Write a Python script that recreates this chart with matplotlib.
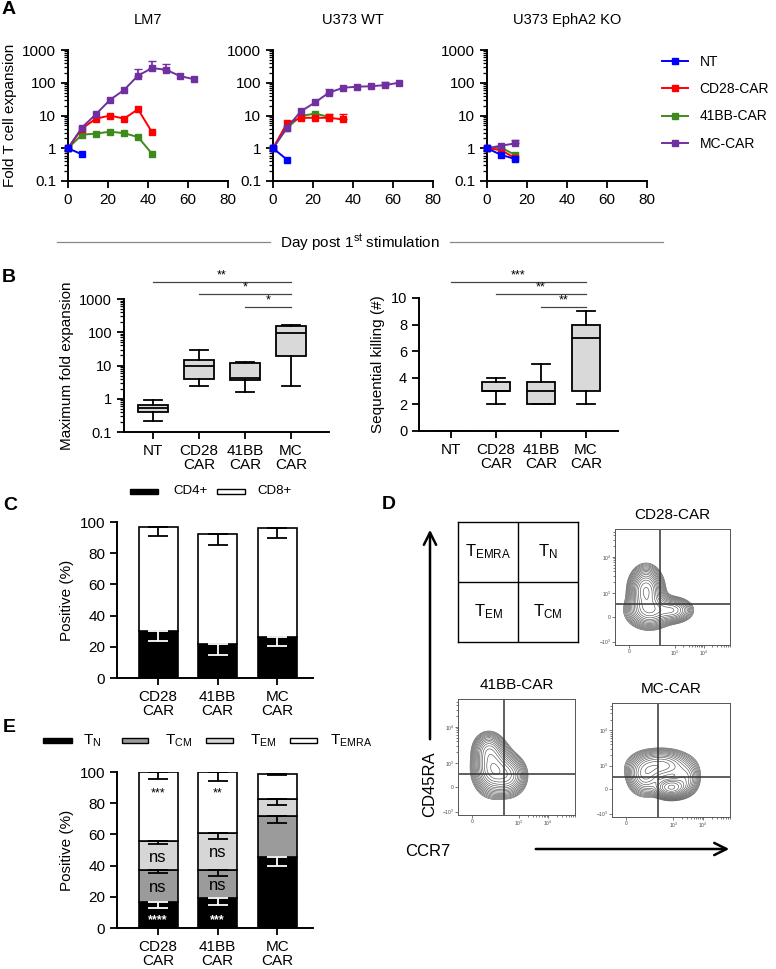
import numpy as np
import matplotlib
matplotlib.use('Agg')
import matplotlib.pyplot as plt
from matplotlib.patches import Rectangle, FancyArrowPatch
from matplotlib.lines import Line2D
import matplotlib.ticker as mticker
import matplotlib.transforms as mtransforms

plt.rcParams['font.family'] = ['Liberation Sans', 'DejaVu Sans']
plt.rcParams['mathtext.default'] = 'regular'
plt.rcParams['axes.linewidth'] = 1.4
plt.rcParams['xtick.major.width'] = 1.3
plt.rcParams['ytick.major.width'] = 1.3

W, H = 776, 969
fig = plt.figure(figsize=(W / 100, H / 100), dpi=100)

# ---------------- data ----------------
days = [0, 7, 14, 21, 28, 35, 42, 49, 56, 63]
group_names = ['NT', 'CD28-CAR', '41BB-CAR', 'MC-CAR']
group_colors = ['#0000ff', '#ff0000', '#3f8a1f', '#7030a0']
panel_titles = ['LM7', 'U373 WT', 'U373 EphA2 KO']

lm7_nt = [1, 0.65]
lm7_cd28 = [1, 4.0, 8.0, 10.0, 8.0, 15.5, 3.1]
lm7_41bb = [1, 2.6, 2.8, 3.2, 2.9, 2.2, 0.68]
lm7_mc = [1, 4.3, 11, 30, 60, 165, 280, 250, 160, 128]
lm7_mc_top = [np.nan, np.nan, np.nan, np.nan, np.nan, 270, 470, 380, np.nan, np.nan]

wt_nt = [1, 0.45]
wt_cd28 = [1, 5.8, 8.5, 8.5, 8.5, 7.6]
wt_cd28_top = [np.nan, np.nan, np.nan, np.nan, 11.5, 11.5]
wt_41bb = [1, 4.2, 9.6, 11.5, 9.0]
wt_mc = [1, 4.3, 13.5, 25, 50, 70, 76, 78, 85, 100]
wt_mc_top = [np.nan, np.nan, np.nan, np.nan, 65, np.nan, np.nan, np.nan, 108, np.nan]

ko_nt = [1, 0.63, 0.47]
ko_cd28 = [1, 0.88, 0.50]
ko_41bb = [1, 1.05, 0.63]
ko_mc = [1, 1.2, 1.4]
ko_mc_top = [np.nan, np.nan, 1.75]

box_labels = ['NT', 'CD28\nCAR', '41BB\nCAR', 'MC\nCAR']
fold_whislo = [0.22, 2.5, 1.6, 2.4]
fold_q1 = [0.40, 4.0, 3.6, 19]
fold_med = [0.52, 10, 4.2, 93]
fold_q3 = [0.66, 15, 12, 155]
fold_whishi = [0.9, 29, 13, 165]
fold_sig = [('**', 0, 3), ('*', 1, 3), ('*', 2, 3)]

kill_whislo = [0, 2, 2, 2]
kill_q1 = [0, 3, 2, 3]
kill_med = [0, 3, 3, 7]
kill_q3 = [0, 3.7, 3.7, 8]
kill_whishi = [0, 4, 5, 9]
kill_sig = [('***', 0, 3), ('**', 1, 3), ('**', 2, 3)]

bar_labels = ['CD28\nCAR', '41BB\nCAR', 'MC\nCAR']
cd4 = [30, 21.5, 26]
cd4_err = [6.5, 6.5, 5.2]
cd8 = [67, 71, 70]
cd8_err = [6, 7.5, 6.5]

tn = [16.8, 19.0, 45.5]
tn_err = [3.8, 4.5, 5.5]
tcm = [20.2, 18.3, 26.0]
tcm_err = [2.0, 3.7, 4.0]
tem = [19.0, 23.7, 11.0]
tem_err = [2.2, 4.0, 3.4]
temra = [44.0, 39.0, 16.5]
temra_err = [4.2, 5.7, 0.7]
tn_stars = ['****', '***', '']
tcm_stars = ['ns', 'ns', '']
tem_stars = ['ns', 'ns', '']
temra_stars = ['***', '**', '']

# flow density components: (cx, cy, sx, sy, weight)
flow_titles = ['CD28-CAR', '41BB-CAR', 'MC-CAR']
flow_cd28 = [(0.27, 0.47, 0.065, 0.09, 1.0), (0.30, 0.30, 0.09, 0.07, 0.7), (0.50, 0.30, 0.08, 0.05, 0.45)]
flow_41bb = [(0.30, 0.40, 0.075, 0.10, 1.0), (0.43, 0.34, 0.07, 0.08, 0.6), (0.26, 0.56, 0.06, 0.07, 0.45)]
flow_mc = [(0.50, 0.26, 0.07, 0.045, 1.0), (0.42, 0.45, 0.12, 0.065, 0.55), (0.28, 0.36, 0.07, 0.08, 0.45), (0.62, 0.34, 0.06, 0.07, 0.3)]


def ax_px(l, t, r, b):
    return fig.add_axes([l / W, 1 - b / H, (r - l) / W, (b - t) / H])


def fx(x):
    return x / W


def fy(y):
    return 1 - y / H


def style(ax):
    for s in ['top', 'right']:
        ax.spines[s].set_visible(False)
    ax.tick_params(direction='out', length=5, labelsize=11)


# ---------------- Panel A ----------------
series_sets = [
    [(lm7_nt, None), (lm7_cd28, None), (lm7_41bb, None), (lm7_mc, lm7_mc_top)],
    [(wt_nt, None), (wt_cd28, wt_cd28_top), (wt_41bb, None), (wt_mc, wt_mc_top)],
    [(ko_nt, None), (ko_cd28, None), (ko_41bb, None), (ko_mc, ko_mc_top)],
]
a_left = [68, 273, 487]
zorders = [5, 3, 2, 4]
for i, (l, title) in enumerate(zip(a_left, panel_titles)):
    ax = ax_px(l, 50, l + 160, 181)
    style(ax)
    for (vals, top), c, z in zip(series_sets[i], group_colors, zorders):
        x = days[:len(vals)]
        ax.plot(x, vals, '-s', color=c, lw=1.4, ms=5, zorder=z, clip_on=False)
        if top is not None:
            v = np.array(vals, float)
            t = np.array(top, float)
            m = ~np.isnan(t)
            ax.errorbar(np.array(x)[m], v[m], yerr=[np.zeros(m.sum()), t[m] - v[m]],
                        fmt='none', ecolor=c, elinewidth=1.3, capsize=3, zorder=z)
    ax.set_yscale('log')
    ax.set_ylim(0.1, 1000)
    ax.set_xlim(0, 80)
    ax.set_xticks([0, 20, 40, 60, 80])
    ax.yaxis.set_major_formatter(mticker.FuncFormatter(lambda v, p: f'{v:g}'))
    ax.yaxis.set_minor_locator(mticker.LogLocator(base=10, subs=np.arange(2, 10), numticks=20))
    ax.yaxis.set_minor_formatter(mticker.NullFormatter())
    ax.tick_params(which='minor', length=3, width=0.9)
    ax.set_title(title, fontsize=10.5, pad=19)
    if i == 0:
        ax.set_ylabel('Fold T cell expansion', fontsize=11, labelpad=4)

handles = [Line2D([], [], color=c, marker='s', ms=5, lw=1.4) for c in group_colors]
fig.legend(handles, group_names, loc='upper left', bbox_to_anchor=(fx(662), fy(55)),
           frameon=False, fontsize=10, handlelength=1.9, labelspacing=0.95, handletextpad=0.8,
           borderpad=0, borderaxespad=0)

fig.text(fx(360), fy(243), 'Day post 1$^{st}$ stimulation', ha='center', va='center', fontsize=11)
fig.add_artist(Line2D([fx(57), fx(270)], [fy(242), fy(242)], color='#888888', lw=0.9))
fig.add_artist(Line2D([fx(450), fx(663)], [fy(242), fy(242)], color='#888888', lw=0.9))

# ---------------- Panel B ----------------
def draw_box(ax, lo, q1, med, q3, hi):
    stats = [dict(whislo=a, q1=b, med=c, q3=d, whishi=e, fliers=[])
             for a, b, c, d, e in zip(lo, q1, med, q3, hi)]
    ax.bxp(stats, positions=range(len(stats)), widths=0.64, patch_artist=True, showfliers=False,
           boxprops=dict(facecolor='#d9d9d9', edgecolor='k', linewidth=1.3),
           medianprops=dict(color='k', linewidth=1.3),
           whiskerprops=dict(color='k', linewidth=1.3),
           capprops=dict(color='k', linewidth=1.3), capwidths=0.38)


def draw_sig(ax, sig, ys):
    tr = mtransforms.blended_transform_factory(ax.transData, ax.transAxes)
    for (txt, a, b), yy in zip(sig, ys):
        ax.plot([a, b], [yy, yy], color='#444444', lw=0.9, transform=tr, clip_on=False)
        ax.text((a + b) / 2, yy + 0.005, txt, ha='center', va='bottom', fontsize=9, transform=tr)


axb1 = ax_px(124, 299, 329, 432)
style(axb1)
axb1.set_yscale('log')
draw_box(axb1, fold_whislo, fold_q1, fold_med, fold_q3, fold_whishi)
axb1.set_ylim(0.1, 1000)
axb1.set_xlim(-0.63, 3.83)
axb1.set_xticks(range(4))
axb1.set_xticklabels(box_labels, fontsize=11, linespacing=1.0)
axb1.yaxis.set_major_formatter(mticker.FuncFormatter(lambda v, p: f'{v:g}'))
axb1.yaxis.set_minor_locator(mticker.LogLocator(base=10, subs=np.arange(2, 10), numticks=20))
axb1.yaxis.set_minor_formatter(mticker.NullFormatter())
axb1.tick_params(which='minor', length=3, width=0.9)
axb1.tick_params(axis='y', labelsize=10.5)
axb1.set_ylabel('Maximum fold expansion', fontsize=11)
draw_sig(axb1, fold_sig, [1.128, 1.038, 0.94])

axb2 = ax_px(419, 298, 618, 431)
style(axb2)
draw_box(axb2, kill_whislo, kill_q1, kill_med, kill_q3, kill_whishi)
axb2.set_ylim(0, 10)
axb2.set_xlim(-0.71, 3.71)
axb2.set_yticks([0, 2, 4, 6, 8, 10])
axb2.set_xticks(range(4))
axb2.set_xticklabels(box_labels, fontsize=11, linespacing=1.0)
axb2.tick_params(axis='y', labelsize=10.5)
axb2.set_ylabel('Sequential killing (#)', fontsize=11)
draw_sig(axb2, kill_sig, [1.12, 1.03, 0.932])

# ---------------- Panel C ----------------
def stacked_err(ax, x, tops, errs, color='k'):
    ax.errorbar(x, tops, yerr=[errs, np.zeros(len(errs))], fmt='none', ecolor=color,
                elinewidth=1.3, capsize=7, capthick=1.3, zorder=4)


xpos = np.arange(3)
axc = ax_px(117, 522, 313, 678)
style(axc)
axc.bar(xpos, cd4, width=0.655, color='k', edgecolor='k', lw=1.2)
axc.bar(xpos, cd8, bottom=cd4, width=0.655, color='white', edgecolor='k', lw=1.2)
stacked_err(axc, xpos, np.array(cd4), cd4_err, 'white')
stacked_err(axc, xpos, np.array(cd4) + np.array(cd8), cd8_err)
axc.set_ylim(0, 100)
axc.set_xlim(-0.69, 2.6)
axc.set_yticks([0, 20, 40, 60, 80, 100])
axc.set_xticks(xpos)
axc.set_xticklabels(bar_labels, fontsize=11, linespacing=1.0)
axc.set_ylabel('Positive (%)', fontsize=11)


def leg_patch(x0, x1, y, color):
    fig.add_artist(Rectangle((fx(x0), fy(y + 2.5)), fx(x1 - x0), 5 / H, facecolor=color,
                             edgecolor='k', lw=1.0))


leg_patch(130, 158, 491, 'k')
fig.text(fx(173), fy(491), 'CD4+', va='center', fontsize=9.5)
leg_patch(217, 245, 491, 'white')
fig.text(fx(257), fy(491), 'CD8+', va='center', fontsize=9.5)

# ---------------- Panel E ----------------
axe = ax_px(117, 772, 313, 928)
style(axe)
seg_vals = [tn, tcm, tem, temra]
seg_errs = [tn_err, tcm_err, tem_err, temra_err]
seg_cols = ['k', '#9b9b9b', '#d6d6d6', 'white']
seg_stars = [tn_stars, tcm_stars, tem_stars, temra_stars]
bottom = np.zeros(3)
for vals, errs, col, stars in zip(seg_vals, seg_errs, seg_cols, seg_stars):
    v = np.array(vals)
    axe.bar(xpos, v, bottom=bottom, width=0.655, color=col, edgecolor='k', lw=1.2)
    stacked_err(axe, xpos, bottom + v, errs, 'white' if col == 'k' else 'k')
    for xi, s, b0, vv in zip(xpos, stars, bottom, v):
        if not s:
            continue
        if s == 'ns':
            axe.text(xi, b0 + vv * 0.5 - 1, s, ha='center', va='center', fontsize=12)
        elif col == 'k':
            axe.text(xi, 5, s, ha='center', va='center', fontsize=9, color='white', fontweight='bold')
        else:
            axe.text(xi, 86, s, ha='center', va='center', fontsize=9)
    bottom = bottom + v
axe.set_ylim(0, 100)
axe.set_xlim(-0.69, 2.6)
axe.set_yticks([0, 20, 40, 60, 80, 100])
axe.set_xticks(xpos)
axe.set_xticklabels(bar_labels, fontsize=11, linespacing=1.0)
axe.set_ylabel('Positive (%)', fontsize=11)

e_leg = [(43, 72, 83, 'k', '$T_{N}$'), (122, 148, 165, '#9b9b9b', '$T_{CM}$'),
         (206, 233, 250, '#d6d6d6', '$T_{EM}$'), (290, 317, 330, 'white', '$T_{EMRA}$')]
for x0, x1, xt, col, lab in e_leg:
    leg_patch(x0, x1, 740, col)
    fig.text(fx(xt), fy(741), lab, va='center', fontsize=11)

# ---------------- Panel D ----------------
axs = ax_px(458, 522, 578, 642)
axs.set_xlim(0, 2)
axs.set_ylim(0, 2)
axs.set_xticks([])
axs.set_yticks([])
for s in axs.spines.values():
    s.set_linewidth(1.0)
axs.axvline(1, color='k', lw=1.0)
axs.axhline(1, color='k', lw=1.0)
for (x, y, lab) in [(0.5, 1.5, '$T_{EMRA}$'), (1.5, 1.5, '$T_{N}$'), (0.5, 0.5, '$T_{EM}$'), (1.5, 0.5, '$T_{CM}$')]:
    axs.text(x, y, lab, ha='center', va='center', fontsize=12)


def flow(box, comps, title, vg, hg):
    l, t, r, b = box
    ax = ax_px(l, t, r, b)
    xs = np.linspace(0, 1, 300)
    X, Y = np.meshgrid(xs, xs)
    Z = np.zeros_like(X)
    for cx, cy, sx, sy, w in comps:
        Z += w * np.exp(-((X - cx) ** 2 / (2 * sx ** 2) + (Y - cy) ** 2 / (2 * sy ** 2)))
    levels = Z.max() * np.geomspace(0.03, 0.93, 16)
    ax.contour(X, Y, Z, levels=levels, colors='#555555', linewidths=0.45)
    ax.axvline(vg, color='#333333', lw=1.1)
    ax.axhline(hg, color='#333333', lw=1.1)
    ax.set_xlim(0, 1)
    ax.set_ylim(0, 1)
    for s in ax.spines.values():
        s.set_linewidth(0.7)
        s.set_color('#555555')
    ax.set_xticks([0.12, 0.52, 0.77])
    ax.set_xticklabels(['0', '$10^3$', '$10^4$'], fontsize=3.5)
    ax.set_yticks([0.03, 0.245, 0.45, 0.76])
    ax.set_yticklabels(['$-10^3$', '0', '$10^3$', '$10^4$'], fontsize=3.5)
    minor = []
    for base in [0.52, 0.77]:
        minor += [base + 0.25 * np.log10(k) for k in range(2, 10)]
    ax.set_xticks([m for m in minor if m < 1], minor=True)
    yminor = []
    for base in [0.45, 0.76]:
        yminor += [base + 0.31 * np.log10(k) for k in range(2, 10)]
    ax.set_yticks([m for m in yminor if m < 1], minor=True)
    ax.tick_params(which='both', length=2, width=0.5, pad=1, colors='#444444')
    ax.tick_params(which='minor', length=1.2)
    ax.set_title(title, fontsize=11, pad=7)
    return ax


flow((615, 529, 730, 645), flow_cd28, flow_titles[0], 0.39, 0.355)
flow((458, 699, 575, 815), flow_41bb, flow_titles[1], 0.39, 0.355)
flow((612, 703, 730, 817), flow_mc, flow_titles[2], 0.39, 0.35)

fig.add_artist(FancyArrowPatch((fx(430), fy(742)), (fx(430), fy(527)),
               transform=fig.transFigure, arrowstyle='->', mutation_scale=22, lw=1.8, color='k'))
fig.add_artist(FancyArrowPatch((fx(533), fy(849)), (fx(732), fy(849)),
               transform=fig.transFigure, arrowstyle='->', mutation_scale=22, lw=1.8, color='k'))
fig.text(fx(430), fy(784), 'CD45RA', rotation=90, ha='center', va='center', fontsize=12)
fig.text(fx(428), fy(851), 'CCR7', ha='center', va='center', fontsize=12)

# ---------------- panel letters ----------------
for lab, x, y in [('A', 2, 10), ('B', 2, 277), ('C', 3, 506), ('D', 382, 505), ('E', 3, 727)]:
    fig.text(fx(x), fy(y), lab, fontsize=14, fontweight='bold', va='center', ha='left')

fig.savefig('out.png', dpi=100)
